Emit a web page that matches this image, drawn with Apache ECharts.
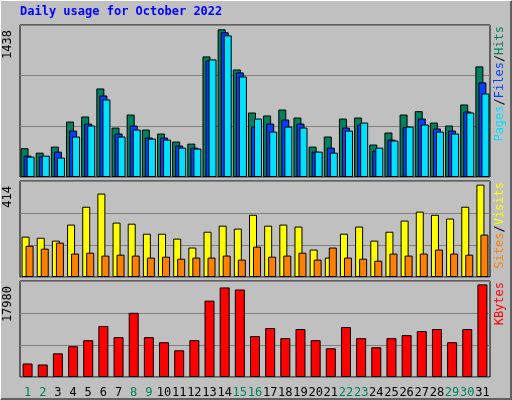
<!DOCTYPE html>
<html><head><meta charset="utf-8">
<script src="https://cdn.jsdelivr.net/npm/echarts@6/dist/echarts.min.js"></script>
<style>html,body{margin:0;padding:0;background:#c0c0c0}#main{width:512px;height:400px}</style>
</head><body><div id="main"></div>
<script>
// data
var days = ['1','2','3','4','5','6','7','8','9','10','11','12','13','14','15','16','17','18','19','20','21','22','23','24','25','26','27','28','29','30','31'];
var weekend = ['1','2','8','9','15','16','22','23','29','30'];
var hits  = [280,237,296,540,589,862,481,608,462,423,345,325,1174,1438,1047,628,599,657,579,296,394,569,579,316,433,608,641,530,501,706,1077];
var files = [208,202,247,452,520,794,423,501,384,384,306,286,1135,1409,1018,491,520,560,520,247,286,481,511,257,364,488,569,472,452,638,921];
var pages = [198,208,189,394,501,755,394,462,374,364,286,277,1145,1379,979,569,442,491,481,247,237,452,530,286,355,491,511,442,423,628,813];
var visits = [181,176,163,235,315,374,244,239,194,194,172,132,203,230,217,279,230,235,226,123,87,194,226,163,203,253,293,279,262,315,414];
var sites  = [140,127,154,105,109,96,100,96,87,91,82,87,87,96,78,136,91,96,109,78,132,87,82,73,105,96,105,123,105,100,190];
var kbytes = [2624,2427,4592,5970,7150,9906,7741,12464,7741,6757,5182,7150,14826,17384,16990,7938,9512,7544,9315,7150,5576,9709,7544,5773,7544,8134,8922,9315,6757,9315,17980];

var myChart = echarts.init(document.getElementById('main'));
var mono = 'DejaVu Sans Mono';
var grids = [
    {left: 20, right: 22, top: 25, height: 152},
    {left: 20, right: 22, top: 181, height: 96},
    {left: 20, right: 22, top: 281, height: 96}
];
grids.forEach(function (g) {
    g.show = true; g.backgroundColor = '#c0c0c0'; g.borderColor = '#000'; g.borderWidth = 1;
});
function xAx(i, show) {
    return {
        type: 'category', gridIndex: i, data: days,
        axisLine: {show: false}, axisTick: {show: false},
        axisLabel: {
            show: show, margin: 10, interval: 0, fontFamily: mono, fontSize: 12,
            color: function (v) { return weekend.indexOf(v) >= 0 ? '#00805c' : '#000'; }
        }
    };
}
function yAx(i, max) {
    return {
        type: 'value', gridIndex: i, min: 0, max: max, interval: max / 3,
        axisLabel: {show: false}, axisLine: {show: false}, axisTick: {show: false},
        splitLine: {lineStyle: {color: '#808080', width: 1}}
    };
}
var bs = {borderColor: '#000', borderWidth: 1};
function bar(name, data, idx, color, w, gap) {
    var s = {
        name: name, type: 'bar', data: data, xAxisIndex: idx, yAxisIndex: idx,
        barWidth: w, itemStyle: Object.assign({color: color}, bs), animation: false
    };
    if (gap) s.barGap = gap;
    return s;
}
function upText(x, y, rich, text) {
    return {
        type: 'text', x: x, y: y, rotation: Math.PI / 2,
        style: {text: text, rich: rich, font: '12px ' + mono, fill: '#000', align: 'right', verticalAlign: 'middle'}
    };
}

option = {
    backgroundColor: '#c0c0c0',
    grid: grids,
    xAxis: [xAx(0, false), xAx(1, false), xAx(2, true)],
    yAxis: [yAx(0, 1480), yAx(1, 430.4), yAx(2, 18636)],
    series: [
        bar('Hits', hits, 0, '#00805c', 8, '-62%'),
        bar('Files', files, 0, '#0040ff', 8, '-62%'),
        bar('Pages', pages, 0, '#00e0ff', 8, '-62%'),
        bar('Visits', visits, 1, '#ffff00', 8, '-50%'),
        bar('Sites', sites, 1, '#ff8000', 8, '-50%'),
        bar('KBytes', kbytes, 2, '#ff0000', 10)
    ],
    graphic: [
        {type: 'rect', shape: {x: 0.5, y: 0.5, width: 510, height: 398}, style: {fill: 'none', stroke: '#fff', lineWidth: 1}},
        {type: 'polyline', shape: {points: [[511, 1], [511, 399], [1, 399]]}, style: {stroke: '#606060', lineWidth: 2, fill: 'none'}},
        {type: 'text', x: 20, y: 6, style: {text: 'Daily usage for October 2022', font: 'bold 12px ' + mono, fill: '#0000ff'}},
        {type: 'text', x: 8, y: 30, rotation: Math.PI / 2, style: {text: '1438', font: '12px ' + mono, fill: '#000', align: 'right', verticalAlign: 'middle'}},
        {type: 'text', x: 8, y: 186, rotation: Math.PI / 2, style: {text: '414', font: '12px ' + mono, fill: '#000', align: 'right', verticalAlign: 'middle'}},
        {type: 'text', x: 8, y: 286, rotation: Math.PI / 2, style: {text: '17980', font: '12px ' + mono, fill: '#000', align: 'right', verticalAlign: 'middle'}},
        {type: 'text', x: 500, y: 26, rotation: Math.PI / 2, style: {
            text: '{p|Pages}{s|/}{f|Files}{s|/}{h|Hits}', align: 'right', verticalAlign: 'middle', font: '12px ' + mono,
            rich: {p: {fill: '#00e0ff'}, f: {fill: '#0040ff'}, h: {fill: '#00805c'}, s: {fill: '#000'}}}},
        {type: 'text', x: 500, y: 182, rotation: Math.PI / 2, style: {
            text: '{a|Sites}{s|/}{b|Visits}', align: 'right', verticalAlign: 'middle', font: '12px ' + mono,
            rich: {a: {fill: '#ff8000'}, b: {fill: '#ffff00'}, s: {fill: '#000'}}}},
        {type: 'text', x: 500, y: 282, rotation: Math.PI / 2, style: {
            text: '{k|KBytes}', align: 'right', verticalAlign: 'middle', font: '12px ' + mono,
            rich: {k: {fill: '#ff0000'}}}}
    ]
};
myChart.setOption(option);
</script>
</body></html>
